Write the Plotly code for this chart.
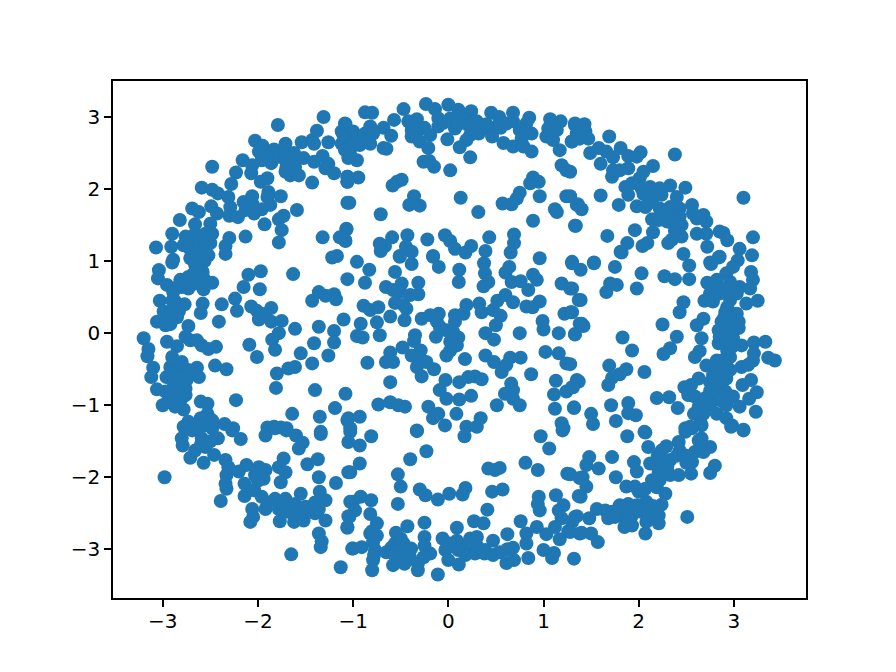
import plotly.graph_objects as go

# points, grouped by area of the plot (x, y)
upper_left = [
    (-1.31,3.0),(-1.79,2.89),(-1.08,2.9),(-1.38,2.81),(-2.03,2.67),(-1.95,2.6),(-1.71,2.63),(-1.54,2.65),
    (-1.43,2.68),(-1.41,2.63),(-1.26,2.65),(-1.12,2.8),(-1.12,2.63),(-1.05,2.52),(-1.05,2.43),(-2.16,2.4),
    (-1.83,2.55),(-1.99,2.52),(-1.71,2.52),(-1.62,2.5),(-1.52,2.43),(-1.41,2.38),(-1.32,2.46),(-1.26,2.35),
    (-1.29,2.29),(-1.2,2.22),(-1.43,2.09),(-1.06,2.17),(-1.06,2.1),(-1.06,1.81),(-2.48,2.31),(-2.23,2.23),
    (-2.06,2.33),(-2.07,2.22),(-1.96,2.4),(-1.86,2.36),(-1.92,2.47),(-1.78,2.45),(-1.71,2.4),(-1.62,2.36),
    (-1.71,2.24),(-1.66,2.19),(-1.57,2.19),(-1.61,2.31),(-1.9,2.15),(-1.97,2.1),(-2.28,2.07),(-2.59,2.02),
    (-2.48,1.99),(-2.42,1.94),(-2.31,1.89),(-1.89,1.96),(-1.76,1.9),(-1.9,1.89),(-2.06,1.9),(-2.15,1.82),
    (-2.06,1.8),(-1.87,1.78),(-1.96,1.72),(-2.13,1.71),(-2.29,1.75),(-2.49,1.76),(-2.69,1.73),(-2.62,1.68),
    (-2.43,1.66),(-2.3,1.63),(-2.21,1.61),(-2.04,1.66),(-1.59,1.71),(-1.73,1.63),(-1.78,1.58),(-1.93,1.51),
    (-1.75,1.43),(-2.82,1.57),(-2.66,1.51),(-2.5,1.52),(-2.9,1.38),(-2.13,1.34),(-2.3,1.32),(-2.34,1.21),
    (-2.34,1.1),(-1.78,1.26),(-1.32,1.33),(-1.07,1.45),(-1.14,1.33),(-1.08,1.28),(-1.17,1.07),(-1.22,1.05),
    (-3.07,1.19),(-2.91,1.2),(-2.89,1.02),(-2.76,1.34),(-2.66,1.38),(-2.55,1.38),(-2.48,1.38),(-2.78,1.22),
    (-2.67,1.25),(-2.59,1.25),(-2.5,1.25),(-2.69,1.11),(-2.6,1.13),(-2.52,1.08),(-2.71,1.04),(-2.62,1.02),
]
upper_mid = [
    (-0.875,3.065),(-0.8,3.06),(-0.47,3.11),(-0.235,3.18),(-0.14,3.11),(0.0,3.17),(0.105,3.1),(0.24,3.08),
    (0.45,3.06),(0.535,3.0),(0.68,3.06),(0.85,2.99),(1.07,2.97),(1.18,2.94),(1.33,2.91),(-0.57,2.96),
    (-0.33,2.97),(-0.42,2.94),(-1.085,2.91),(-0.82,2.87),(-0.68,2.85),(-1.0,2.8),(-0.875,2.77),(-0.79,2.77),
    (-0.6,2.74),(-0.385,2.82),(-0.315,2.82),(-0.19,2.75),(-0.385,2.73),(-0.105,2.98),(-0.105,2.87),(0.02,2.98),
    (0.07,2.84),(0.16,2.98),(0.3,2.94),(0.21,2.89),(0.32,2.77),(0.23,2.75),(0.19,2.68),(-0.01,2.69),
    (0.12,2.58),(0.23,2.44),(0.44,2.82),(0.46,2.73),(0.525,2.89),(0.61,2.91),(0.58,2.64),(0.68,2.94),
    (0.82,2.91),(0.75,2.82),(0.875,2.77),(0.77,2.7),(0.68,2.59),(0.79,2.59),(0.875,2.52),(1.03,2.73),
    (1.1,2.68),(1.17,2.54),(1.05,2.84),(1.14,2.82),(1.295,2.66),(1.35,2.77),(-0.3,2.66),(-0.21,2.57),
    (-0.68,2.57),(-0.65,2.56),(-0.82,2.63),(-0.93,2.61),(-1.07,2.68),(-1.085,2.54),(-1.03,2.47),(-0.96,2.4),
    (-0.26,2.38),(-0.2,2.39),(-0.15,2.31),(0.02,2.26),(1.19,2.33),(1.24,2.26),(0.89,2.16),(0.95,2.1),
    (0.86,2.08),(-0.945,2.16),(-1.06,2.17),(-1.06,2.1),(-0.49,2.13),(-0.54,2.1),(-0.585,2.05),(-1.04,1.81),
    (-0.36,1.9),(-0.41,1.78),(-0.3,1.77),(-0.71,1.65),(0.13,1.88),(0.315,1.68),(0.75,1.95),(0.72,1.87),
    (0.665,1.79),(0.57,1.8),(0.96,1.9),(1.24,1.9),(1.12,1.72),(1.14,1.68),(1.35,1.78),(0.89,1.56),
    (1.33,1.49),(-1.07,1.44),(-1.085,1.29),(-0.59,1.33),(-0.43,1.36),(-0.22,1.3),(-0.035,1.36),(0.02,1.28),
    (0.07,1.17),(0.24,1.21),(0.18,1.12),(0.43,1.33),(0.39,1.14),(0.69,1.37),(0.69,1.25),(0.655,1.12),
    (-0.72,1.24),(-0.665,1.21),(-0.71,1.14),(-0.445,1.2),(-0.385,1.13),(-0.51,1.07),(-0.16,1.07),(0.96,1.04),
    (-0.96,0.99),(1.3,0.99),
]
upper_right = [
    (1.33,2.89),(1.43,2.9),(1.35,2.77),(1.44,2.8),(1.3,2.66),(1.47,2.7),(1.69,2.73),(1.58,2.57),
    (1.49,2.5),(1.66,2.52),(1.81,2.57),(1.73,2.44),(1.6,2.35),(1.89,2.46),(2.02,2.51),(1.98,2.45),
    (2.38,2.48),(2.15,2.32),(1.89,2.29),(1.8,2.26),(1.72,2.17),(1.73,2.26),(2.05,2.24),(1.28,2.24),
    (2.01,2.15),(1.93,2.08),(1.86,2.03),(2.12,2.03),(2.33,2.05),(2.49,2.02),(2.22,2.01),(2.03,2.01),
    (1.89,1.92),(2.24,1.92),(2.4,1.89),(2.1,1.89),(1.6,1.91),(3.1,1.88),(1.28,1.9),(1.79,1.78),
    (1.98,1.76),(2.07,1.75),(2.14,1.85),(1.36,1.79),(1.4,1.72),(2.22,1.73),(2.56,1.78),(2.33,1.75),
    (2.43,1.73),(2.57,1.66),(2.68,1.64),(2.71,1.55),(2.61,1.59),(2.33,1.64),(2.43,1.62),(2.14,1.58),
    (2.21,1.57),(2.36,1.52),(2.45,1.5),(2.4,1.45),(1.34,1.49),(1.67,1.35),(1.96,1.43),(2.15,1.4),
    (2.45,1.34),(2.35,1.3),(2.31,1.25),(2.61,1.38),(2.71,1.38),(2.85,1.41),(2.89,1.39),(2.93,1.29),
    (3.2,1.33),(2.72,1.2),(2.09,1.25),(2.04,1.21),(1.88,1.25),(1.81,1.13),(2.47,1.1),(2.85,1.06),
    (3.06,1.17),(3.19,1.08),(3.04,1.01),(2.75,0.98),(1.53,0.98),
]
middle_left = [
    (-2.9,0.98),(-3.04,0.875),(-3.05,0.76),(-2.955,0.67),(-2.815,0.74),(-2.73,0.78),(-2.62,0.9),(-2.57,0.76),
    (-2.48,0.7),(-2.73,0.62),(-2.57,0.61),(-2.66,0.69),(-2.8,0.64),(-2.89,0.57),(-3.03,0.45),(-2.87,0.44),
    (-2.77,0.4),(-2.58,0.41),(-2.6,0.28),(-2.83,0.3),(-2.99,0.3),(-3.06,0.16),(-2.97,0.11),(-2.92,0.125),
    (-2.92,0.25),(-2.73,0.1),(-2.38,0.4),(-2.24,0.48),(-2.22,0.31),(-2.41,0.16),(-2.1,0.81),(-1.97,0.86),
    (-2.15,0.64),(-1.98,0.61),(-1.63,0.82),(-1.06,0.75),(-1.36,0.57),(-1.43,0.45),(-1.29,0.52),(-1.2,0.54),
    (-1.18,0.47),(-2.07,0.37),(-2.01,0.31),(-1.86,0.35),(-1.92,0.27),(-1.99,0.19),(-1.86,0.16),(-1.75,0.17),
    (-1.61,0.06),(-1.36,0.09),(-1.1,0.19),(-1.2,0.03),(-1.78,0.0),(-1.85,-0.09),(-1.82,-0.23),(-1.41,-0.14),
    (-1.2,-0.13),(-2.09,-0.16),(-2.01,-0.33),(-1.26,-0.31),(-1.55,-0.28),(-1.43,-0.42),(-1.68,-0.49),(-1.61,-0.47),
    (-1.8,-0.56),(-1.81,-0.76),(-1.4,-0.79),(-1.08,-0.84),(-1.19,-1.04),(-1.35,-1.16),(-1.64,-1.12),(-1.06,-1.21),
    (-3.2,-0.07),(-3.15,-0.22),(-3.16,-0.32),(-3.1,-0.48),(-3.12,-0.61),(-2.955,-0.12),(-2.85,-0.18),(-2.76,-0.05),
    (-2.71,-0.1),(-2.64,-0.1),(-2.59,-0.17),(-2.52,-0.22),(-2.44,-0.19),(-2.45,-0.45),(-2.33,-0.5),(-2.23,-0.93),
    (-2.64,-0.48),(-2.62,-0.61),(-2.9,-0.33),(-2.8,-0.4),(-2.92,-0.47),(-2.82,-0.51),(-2.73,-0.51),(-2.96,-0.61),
    (-2.85,-0.63),(-2.75,-0.65),(-3.06,-0.78),(-2.97,-0.81),(-2.87,-0.75),(-2.76,-0.77),(-2.89,-0.88),(-2.76,-0.86),
    (-3.0,-1.0),(-2.87,-1.02),(-2.78,-1.06),(-2.82,-0.91),(-2.94,-0.93),(-2.6,-0.95),(-2.53,-0.98),(-2.53,-1.12),
    (-2.6,-1.18),(-2.48,-1.21),(-2.73,-1.23),(-2.78,-1.3),(-2.66,-1.28),(-2.35,-1.26),(-2.26,-1.32),(-2.48,-1.3),
    (-2.59,-1.3),(-1.9,-1.31),(-1.83,-1.3),(-1.76,-1.31),(-1.7,-1.32),(-1.34,-1.37),
]
middle_mid = [
    (-0.83,0.88),(-0.875,0.7),(-0.56,0.85),(-0.655,0.64),(-0.49,0.69),(-0.58,0.6),(-0.51,0.57),(-0.315,0.7),
    (-0.4,0.53),(-0.315,0.54),(-0.56,0.42),(-0.47,0.39),(-0.89,0.38),(-0.82,0.32),(-0.735,0.36),(-0.44,0.34),
    (-0.75,0.15),(-0.61,0.23),(-0.46,0.18),(-0.92,0.13),(-0.96,-0.04),(-0.9,-0.06),(-0.72,-0.03),(-0.16,1.06),
    (-0.1,0.92),(-0.385,0.96),(-0.51,1.06),(0.115,0.88),(0.11,0.71),(0.375,0.97),(0.385,0.83),(0.42,0.71),
    (0.37,0.65),(0.64,0.92),(0.6,0.84),(0.665,0.71),(0.76,0.72),(0.84,0.6),(0.89,0.81),(0.93,0.74),
    (1.19,0.69),(1.28,0.62),(-0.28,0.2),(-0.19,0.25),(-0.1,0.27),(-0.12,0.16),(-0.09,0.09),(0.07,0.25),
    (0.16,0.27),(0.19,0.39),(0.07,0.16),(-0.02,0.04),(0.05,0.02),(-0.13,-0.05),(-0.35,-0.03),(-0.36,-0.11),
    (0.105,-0.06),(0.02,-0.12),(0.09,-0.17),(0.02,-0.24),(-0.02,-0.31),(0.325,0.41),(0.35,0.29),(0.47,0.32),
    (0.515,0.45),(0.6,0.53),(0.68,0.43),(0.55,0.24),(0.5,0.11),(0.82,0.37),(0.885,0.36),(0.96,0.44),
    (0.75,0.0),(0.39,0.0),(0.48,-0.09),(0.99,0.17),(1.0,0.05),(1.16,0.0),(1.22,0.27),(1.285,0.29),
    (1.33,-0.01),(1.37,0.46),(1.38,0.13),(-0.48,-0.2),(-0.61,-0.27),(-0.655,-0.4),(-0.58,-0.4),(-0.85,-0.41),
    (-0.29,-0.24),(-0.385,-0.31),(-0.3,-0.35),(-0.23,-0.4),(-0.33,-0.47),(-0.15,-0.5),(-0.28,-0.6),(0.175,-0.36),
    (0.39,-0.31),(0.48,-0.4),(0.56,-0.54),(0.65,-0.34),(0.76,-0.34),(0.61,-0.44),(0.87,-0.57),(1.02,-0.26),
    (1.16,-0.28),(1.24,-0.42),(-0.61,-0.68),(-0.03,-0.65),(0.115,-0.68),(0.21,-0.61),(0.28,-0.6),(0.35,-0.64),
    (-0.09,-0.79),(-0.02,-0.91),(0.115,-0.92),(0.24,-0.87),(0.66,-0.7),(0.68,-0.79),(0.595,-0.84),(0.68,-0.91),
    (0.75,-1.0),(0.51,-1.0),(1.13,-0.66),(1.11,-0.85),(1.24,-0.81),(1.31,-0.75),(1.35,-0.65),(1.12,-1.05),
    (1.32,-1.04),(-0.735,-0.99),(-0.61,-0.96),(-0.525,-1.0),(-0.455,-1.02),(-0.21,-1.02),(-0.105,-1.12),(-0.16,-1.18),
    (0.085,-1.12),(0.34,-1.18),(-0.035,-1.28),(-1.05,-1.18),(-0.93,-1.16),(-1.03,-1.32),(-0.33,-1.35),(0.19,-1.3),
    (0.3,-1.3),(1.19,-1.25),(1.21,-1.32),
]
middle_right = [
    (1.3,0.97),(1.39,0.88),(1.53,0.97),(1.75,0.92),(2.03,0.83),(1.82,1.12),(2.53,0.94),(2.76,0.96),
    (2.84,1.05),(2.99,0.92),(2.92,0.83),(3.18,0.85),(3.2,0.74),(2.27,0.79),(2.38,0.75),(2.53,0.75),
    (2.72,0.7),(2.82,0.74),(2.96,0.71),(1.7,0.69),(1.77,0.67),(1.66,0.57),(1.98,0.62),(1.3,0.62),
    (1.39,0.46),(2.78,0.6),(2.75,0.55),(2.89,0.62),(3.06,0.64),(3.17,0.62),(2.96,0.46),(2.69,0.45),
    (2.78,0.44),(3.03,0.55),(3.13,0.41),(3.25,0.45),(2.47,0.43),(2.43,0.29),(1.3,0.29),(1.4,0.13),
    (1.42,0.1),(1.33,-0.02),(2.68,0.2),(2.61,0.11),(2.25,0.12),(2.91,0.29),(3.03,0.27),(2.87,0.16),
    (3.05,0.16),(2.84,0.04),(2.96,0.04),(3.05,0.07),(2.66,-0.07),(2.4,-0.05),(1.83,-0.06),(1.93,-0.24),
    (2.33,-0.21),(2.26,-0.29),(2.84,-0.14),(2.99,-0.07),(2.85,-0.05),(3.08,-0.17),(3.21,-0.13),(3.33,-0.12),
    (3.36,-0.34),(3.43,-0.38),(3.21,-0.28),(3.2,-0.38),(2.98,-0.19),(2.96,-0.33),(2.64,-0.25),(2.59,-0.33),
    (2.71,-0.45),(2.82,-0.38),(3.08,-0.47),(2.89,-0.47),(2.96,-0.51),(3.15,-0.44),(1.28,-0.43),(1.69,-0.45),
    (1.87,-0.5),(1.8,-0.57),(1.72,-0.62),(1.68,-0.72),(2.06,-0.54),(1.37,-0.67),(1.3,-0.75),(2.63,-0.63),
    (2.78,-0.58),(2.75,-0.68),(2.85,-0.65),(2.92,-0.63),(2.48,-0.75),(2.55,-0.72),(2.52,-0.86),(2.59,-0.88),
    (3.18,-0.65),(3.09,-0.72),(3.24,-0.82),(3.16,-0.91),(2.84,-0.77),(2.78,-0.88),(2.91,-0.81),(2.99,-0.88),
    (3.06,-1.02),(2.85,-0.93),(2.92,-1.0),(2.75,-1.0),(2.63,-1.02),(2.58,-1.12),(2.68,-1.12),(2.82,-1.12),
    (2.92,-1.18),(3.23,-1.09),(2.19,-0.9),(2.32,-0.89),(2.41,-1.04),(2.65,-1.25),(2.98,-1.28),(3.1,-1.34),
    (2.49,-1.32),(2.54,-1.3),(1.71,-1.0),(1.89,-0.97),(1.89,-1.11),(1.97,-1.14),(1.76,-1.22),(1.5,-1.12),
    (1.52,-1.26),(1.32,-1.03),(2.06,-1.37),
]
lower_left = [
    (-2.98,-2.0),(-2.8,-1.46),(-2.69,-1.35),(-2.79,-1.56),(-2.71,-1.73),(-2.66,-1.63),(-2.57,-1.8),(-2.59,-1.46),
    (-2.48,-1.32),(-2.42,-1.46),(-2.55,-1.58),(-2.46,-1.69),(-2.34,-1.76),(-2.18,-1.47),(-2.27,-1.35),(-2.31,-1.86),
    (-2.33,-1.97),(-2.2,-1.92),(-2.12,-1.83),(-2.34,-2.09),(-2.33,-2.16),(-2.39,-2.33),(-2.14,-2.09),(-2.14,-2.26),
    (-2.04,-2.18),(-1.99,-1.86),(-1.92,-1.9),(-2.03,-1.97),(-1.94,-2.02),(-1.96,-2.27),(-2.06,-2.44),(-2.05,-2.55),
    (-2.08,-2.62),(-1.92,-2.44),(-1.82,-2.3),(-1.71,-2.3),(-1.78,-2.44),(-1.68,-2.48),(-1.77,-2.61),(-1.62,-2.62),
    (-1.55,-2.23),(-1.61,-2.37),(-1.5,-2.41),(-1.52,-2.6),(-1.4,-2.5),(-1.29,-2.6),(-1.35,-2.2),(-1.29,-2.32),
    (-1.36,-2.44),(-1.36,-2.78),(-1.33,-2.89),(-1.34,-2.97),(-1.65,-3.07),(-1.13,-3.25),(-1.73,-1.74),(-1.78,-1.86),
    (-1.71,-1.93),(-1.76,-2.07),(-1.48,-1.82),(-1.37,-1.75),(-1.36,-2.0),(-1.18,-2.08),(-1.05,-1.93),(-1.92,-1.42),
    (-1.82,-1.32),(-1.7,-1.35),(-1.6,-1.42),(-1.53,-1.52),(-1.57,-1.6),(-1.34,-1.4),(-1.03,-1.37),(-1.05,-1.51),
    (-1.03,-2.34),(-1.05,-2.54),(-1.06,-2.69),(-1.01,-2.99),
]
lower_mid = [
    (-0.93,-1.56),(-0.81,-1.43),(-0.33,-1.36),(0.17,-1.43),(0.97,-1.43),(1.06,-1.6),(1.2,-1.35),(-0.23,-1.64),
    (-0.4,-1.75),(-0.93,-1.81),(-1.03,-1.93),(-0.53,-1.96),(-0.5,-2.13),(-0.53,-2.37),(-0.3,-2.17),(-0.24,-2.25),
    (-0.11,-2.31),(0.01,-2.23),(0.15,-2.24),(0.18,-2.15),(0.42,-1.88),(0.49,-1.9),(0.54,-1.87),(0.46,-2.2),
    (0.57,-2.17),(0.41,-2.45),(0.81,-1.8),(0.94,-1.9),(1.25,-1.95),(1.38,-2.01),(0.95,-2.27),(0.94,-2.37),
    (0.96,-2.46),(1.13,-2.25),(1.21,-2.39),(1.16,-2.46),(1.19,-2.57),(1.37,-2.26),(-1.0,-2.34),(-0.92,-2.27),
    (-0.81,-2.32),(-0.98,-2.46),(-1.04,-2.55),(-1.06,-2.7),(-0.82,-2.51),(-0.75,-2.64),(-0.82,-2.78),(-0.75,-2.81),
    (-0.79,-2.9),(-1.0,-2.99),(-0.91,-2.97),(-0.77,-3.01),(-0.79,-3.15),(-0.8,-3.29),(-0.43,-2.68),(-0.55,-2.77),
    (-0.25,-2.63),(-0.25,-2.83),(-0.65,-3.04),(-0.56,-2.92),(-0.47,-2.92),(-0.56,-3.04),(-0.39,-2.99),(-0.49,-3.08),
    (-0.58,-3.22),(-0.46,-3.2),(-0.32,-3.29),(-0.32,-3.2),(-0.25,-2.95),(-0.19,-3.06),(-0.26,-3.11),(-0.11,-3.35),
    (-0.06,-2.85),(-0.03,-3.01),(0.0,-3.15),(0.11,-3.21),(0.09,-2.7),(0.09,-2.88),(0.105,-3.01),(0.21,-3.04),
    (0.23,-2.85),(0.3,-2.83),(0.28,-3.06),(0.27,-2.61),(0.37,-2.64),(0.385,-3.01),(0.47,-2.88),(0.47,-3.08),
    (0.54,-3.04),(0.62,-2.79),(0.68,-2.98),(0.69,-3.15),(0.61,-3.19),(0.84,-3.12),(0.76,-2.61),(0.82,-2.78),
    (0.93,-2.69),(1.03,-2.79),(0.82,-2.92),(1.0,-3.01),(1.11,-3.05),(1.09,-3.12),(1.32,-3.13),(1.12,-2.69),
    (1.17,-2.86),(1.26,-2.75),(1.33,-2.55),(1.38,-2.78),
]
lower_right = [
    (1.88,-1.43),(2.07,-1.38),(2.1,-1.58),(2.49,-1.37),(2.56,-1.32),(2.66,-1.28),(2.97,-1.3),(3.1,-1.35),
    (2.42,-1.51),(2.29,-1.57),(2.24,-1.63),(2.43,-1.63),(2.66,-1.46),(2.63,-1.49),(2.75,-1.58),(2.59,-1.65),
    (2.68,-1.65),(2.56,-1.79),(2.8,-1.84),(2.75,-1.94),(2.55,-1.95),(1.48,-1.72),(1.72,-1.72),(1.45,-1.83),
    (1.58,-1.88),(1.95,-1.79),(1.98,-1.92),(2.12,-1.81),(2.24,-1.79),(2.33,-1.76),(2.21,-1.93),(2.33,-1.97),
    (2.42,-1.97),(2.22,-2.04),(2.14,-2.04),(1.76,-2.0),(1.41,-2.0),(1.45,-2.13),(1.39,-2.27),(1.28,-1.96),
    (1.87,-2.13),(1.96,-2.13),(2.07,-2.16),(2.19,-2.14),(2.28,-2.23),(2.24,-2.38),(2.08,-2.34),(1.98,-2.39),
    (1.89,-2.37),(1.8,-2.39),(1.72,-2.48),(1.56,-2.44),(1.65,-2.46),(1.48,-2.57),(1.35,-2.54),(1.3,-2.62),
    (1.68,-2.57),(1.8,-2.53),(1.93,-2.53),(2.03,-2.48),(2.21,-2.53),(2.21,-2.64),(2.08,-2.62),(1.85,-2.69),
    (1.93,-2.67),(2.07,-2.78),(2.51,-2.55),(1.4,-2.77),(1.5,-2.78),(1.57,-2.9),(1.28,-2.76),
]
# overlapping points inside the solid blobs
dense_left = [
    (-2.7,1.3),(-2.62,1.3),(-2.55,1.3),(-2.72,1.18),(-2.62,1.18),(-2.55,1.18),(-2.66,1.06),(-2.56,1.0),
    (-2.66,0.95),(-2.58,0.85),(-2.68,0.82),(-2.72,0.7),(-2.82,0.68),(-2.62,0.76),(-2.88,-0.4),(-2.85,-0.5),
    (-2.9,-0.56),(-2.82,-0.6),(-2.88,-0.7),(-2.8,-0.7),(-2.92,-0.8),(-2.84,-0.82),(-2.8,-0.9),(-2.9,-0.97),
    (-2.88,0.36),(-2.95,0.2),(-2.85,0.22),(-2.9,0.45),(-2.6,-1.55),(-2.5,-1.5),
]
dense_right = [
    (2.93,0.36),(2.97,0.2),(2.93,0.1),(3.0,0.12),(2.9,0.22),(2.92,-0.1),(2.93,-0.25),(2.88,-0.38),
    (2.85,-0.55),(2.92,-0.45),(2.8,-0.5),(2.8,-0.75),(2.85,-0.85),(2.75,-0.8),(2.7,-0.9),(2.95,-0.9),
    (2.9,0.6),(2.85,0.55),(2.95,0.6),(2.38,1.6),(2.3,1.55),(2.38,1.42),(2.42,1.56),(2.3,1.7),
    (2.1,1.8),(2.15,1.95),(2.05,1.93),(1.4,2.85),(1.38,2.7),(2.0,-2.2),(1.9,-2.45),(2.0,-2.45),
    (2.1,-2.45),(1.75,-2.55),(1.9,-2.6),(2.15,-2.4),(2.15,-2.55),(2.3,-1.85),(2.4,-1.7),(2.5,-1.7),
    (2.5,-1.8),(2.65,-1.55),(2.2,-1.7),
]
dense_band = [
    (-0.6,-2.98),(-0.5,-3.0),(-0.45,-3.05),(-0.55,-3.12),(-0.4,-3.12),(-0.8,-2.75),(-0.78,-3.08),(-0.5,-2.85),
    (0.02,-2.92),(0.15,-2.95),(0.3,-2.95),(0.18,-3.08),(0.38,-3.06),(0.62,-3.0),(-1.75,-2.37),(-1.65,-2.4),
    (-1.55,-2.5),(-1.45,-2.45),(-1.4,-2.35),(-1.9,-2.35),(-2.0,-1.92),(-2.0,-2.05),(0.4,2.9),(0.55,2.85),
    (-0.05,2.92),(0.1,2.9),(0.25,2.85),(-0.25,2.85),(-0.98,2.65),(-0.95,2.72),(-1.1,2.75),(-1.0,2.6),
    (-1.62,2.42),(-1.7,2.3),
]

all_points = (upper_left + upper_mid + upper_right + middle_left + middle_mid
              + middle_right + lower_left + lower_mid + lower_right
              + dense_left + dense_right + dense_band)
x_vals = [p[0] for p in all_points]
y_vals = [p[1] for p in all_points]
tick_vals = [-3, -2, -1, 0, 1, 2, 3]

fig = go.Figure(go.Scatter(x=x_vals, y=y_vals, mode='markers',
                           marker=dict(color='#1f77b4', size=14, line=dict(width=0))))

axis_style = dict(showgrid=False, zeroline=False, showline=True, mirror=True,
                  linecolor='black', linewidth=1.5, ticks='outside', ticklen=7,
                  tickwidth=1.5, tickcolor='black', tickvals=tick_vals)

# the page keeps an 8px body margin, so the figure is 16px smaller than the window
fig.update_layout(
    width=880, height=656,
    autosize=False,
    showlegend=False,
    paper_bgcolor='white', plot_bgcolor='white',
    font=dict(family='DejaVu Sans', size=20, color='black'),
    margin=dict(l=105, r=82, t=73, b=66),
    xaxis=dict(range=[-3.522, 3.757], automargin=False, ticklabelstandoff=-3, **axis_style),
    yaxis=dict(range=[-3.676, 3.5], automargin=False, **axis_style),
)

fig.write_html("out.html")
